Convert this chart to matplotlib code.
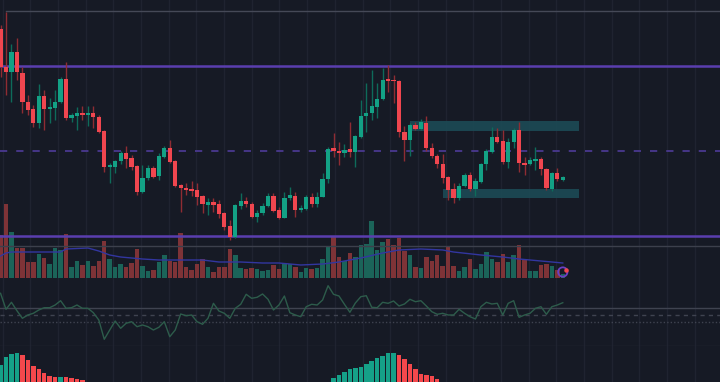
import numpy as np
import matplotlib
matplotlib.use("Agg")
import matplotlib.pyplot as plt

# velas: apertura, maximo, minimo, cierre
opens = [371, 333, 328, 348, 327, 298, 291, 277, 304, 291, 292, 298, 321, 282, 284, 287, 285, 287, 283, 269,
         233, 233, 239, 247, 242, 234, 208, 222, 232, 224, 243, 252, 239, 215, 212, 211, 210, 204, 195, 198,
         196, 187, 174, 163, 194, 199, 196, 183, 187, 194, 204, 190, 182, 202, 204, 190, 191, 203, 196, 203,
         221, 252, 249, 247, 251, 248, 263, 284, 287, 293, 301, 321, 320, 319, 268, 260, 275, 271, 277, 252,
         244, 236, 223, 211, 202, 214, 225, 211, 218, 236, 248, 263, 259, 238, 258, 270, 237, 236, 239, 241,
         231, 211, 227, 220]
highs = [375, 388, 356, 362, 333, 305, 295, 316, 310, 302, 310, 323, 338, 287, 293, 294, 294, 294, 285, 270,
         237, 240, 249, 254, 245, 235, 235, 235, 234, 247, 254, 260, 240, 216, 217, 219, 217, 205, 202, 202,
         200, 188, 180, 196, 207, 203, 198, 190, 197, 207, 207, 193, 208, 213, 208, 195, 205, 207, 208, 227,
         253, 267, 258, 256, 278, 265, 300, 317, 330, 317, 332, 335, 325, 320, 274, 277, 278, 281, 284, 257,
         246, 246, 224, 217, 217, 227, 228, 222, 237, 251, 273, 272, 270, 262, 272, 278, 243, 243, 253, 243,
         232, 228, 232, 224]
lows = [323, 305, 298, 320, 287, 285, 273, 272, 270, 277, 280, 297, 280, 278, 270, 280, 274, 272, 267, 228,
        217, 227, 236, 232, 230, 205, 207, 220, 222, 220, 242, 237, 213, 188, 205, 204, 195, 187, 185, 188,
        182, 170, 160, 162, 191, 193, 182, 178, 185, 193, 188, 181, 182, 200, 183, 188, 190, 193, 193, 203,
        217, 243, 235, 243, 243, 233, 262, 268, 280, 282, 300, 308, 297, 263, 239, 244, 270, 270, 249, 242,
        232, 217, 200, 197, 200, 213, 209, 204, 217, 230, 247, 257, 236, 232, 252, 228, 225, 235, 230, 225,
        210, 209, 219, 219]
closes = [333, 328, 348, 328, 298, 290, 277, 304, 291, 293, 298, 321, 282, 285, 287, 285, 287, 283, 268, 233,
          235, 239, 247, 241, 233, 208, 222, 232, 223, 244, 252, 238, 214, 212, 210, 209, 203, 196, 198, 195,
          186, 173, 163, 195, 199, 196, 183, 187, 194, 204, 189, 182, 202, 205, 190, 192, 203, 196, 203, 221,
          251, 249, 247, 250, 248, 264, 284, 287, 294, 301, 320, 319, 319, 268, 260, 275, 271, 278, 252, 244,
          236, 222, 210, 202, 214, 225, 211, 219, 236, 249, 263, 258, 238, 258, 270, 237, 235, 240, 241, 231,
          212, 227, 221, 223]

volume = [43, 74, 46, 30, 30, 16, 16, 24, 20, 14, 30, 28, 44, 11, 17, 13, 17, 12, 17, 37,
          19, 11, 14, 11, 15, 29, 12, 7, 8, 16, 23, 17, 16, 45, 11, 8, 14, 19, 11, 6,
          11, 11, 29, 23, 10, 9, 10, 9, 7, 8, 13, 9, 14, 14, 11, 6, 10, 9, 10, 19,
          32, 42, 21, 17, 25, 21, 33, 34, 57, 28, 36, 39, 33, 40, 27, 23, 11, 10, 21, 17,
          23, 12, 31, 12, 7, 11, 19, 9, 14, 26, 19, 16, 24, 16, 23, 33, 18, 7, 7, 13,
          14, 12, 8, 4]

vol_ma_idx = [0, 1, 2, 4, 11, 12, 16, 18, 20, 22, 26, 29, 33, 37, 40, 44, 48, 51, 55, 59,
              62, 66, 70, 73, 77, 81, 83, 88, 92, 95, 99, 103]
vol_ma = [22, 25, 26, 26, 26, 29, 30, 27, 23, 21, 19, 18, 18, 18, 16, 16, 15, 15, 13, 14,
          16, 20, 25, 28, 29, 28, 26, 23, 21, 19, 17, 15]

# oscilador (panel del medio)
osc = [21.7, 5.7, 12.7, 4.3, -3.3, 0, 1.7, 5, 7.3, 7.3, 10, 14.3, 6.7, 7.3, 10, 6.7, 6.7, 2.3, -5, -24.3,
       -15, -6, -13.3, -8.3, -6.7, -11.7, -10, -11.7, -15, -12.3, -6.7, -21.7, -15, 1, -0.7, 0, -6.7, -9.3, -3.3, 11.7,
       4, 1.7, -3.3, 6.7, 10.7, 20.7, 16.7, 17.7, 21, 15.7, 5, 10, 19, 2.3, 0, -1.7, 8.3, 10.7, 10, 15,
       29.3, 20.7, 19, 10.7, 2.7, 12, 18.3, 19.3, 7.7, 7.3, 12.7, 11.7, 14, 9, 11, 15.7, 13.3, 14.3, 9, 3.3,
       0.7, 1.7, 0, 0, 5.7, 1.7, -1.7, -4, 8.3, 12.7, 11, 11.7, 0, 11.7, 14.3, -2.3, 0, 1.7, 6.7, 8.3,
       0.7, 8.3, 10, 12.3]
osc_levels = [6.7, 0, -6.7]

# histograma MACD (la base queda por debajo del borde)
macd_hist = [35, 43, 46, 47, 45, 40, 34, 31, 27, 24, 23, 23.5, 23, 22, 21, 20, 17, 15, 12, 8,
             5, 3, 1, -2, -4, -6, -8, -9, -10, -10, -9, -8, -8, -7, -7, -8, -9, -10, -11, -12,
             -13, -14, -15, -14, -12, -10, -8, -6, -5, -4, -3, -2, 0, 2, 4, 6, 8, 10, 13, 15,
             17, 22, 25, 28, 31, 32, 33, 36, 39, 42, 44, 47, 47.5, 45, 41, 36, 31, 26, 25, 24,
             21, 17, 14, 11, 9, 8, 7, 6, 6, 6, 7, 7, 6, 5, 5, 5, 4, 3, 2, 1,
             0, -1, -1, -2]

lines_solid = [334, 164]
line_dashed = 249
line_gray_top = 389
line_gray_low = 154
boxes = [(75.1, 106.0, 269, 279), (81.1, 106.0, 202, 211)]

BG = "#161a25"
GRID = "#1f2330"
UP, DOWN = "#13a185", "#f0464f"
UP_W, DOWN_W = "#0e6b5a", "#8f2c33"
VUP, VDOWN = "#1b6459", "#7e3337"

n = len(opens)
idx = np.arange(n)
up = np.array(closes) >= np.array(opens)
xlim = (-0.1, 131.8)
grid_x = np.arange(0.4, 132, 5.07)

fig = plt.figure(figsize=(7.2, 3.82), dpi=100, facecolor=BG)
axv = fig.add_axes([0, 102 / 382, 1, 280 / 382])
ax = axv.twinx()
ax_osc = fig.add_axes([0, 36 / 382, 1, 66 / 382])
ax_macd = fig.add_axes([0, 0, 1, 36 / 382])

for a in (axv, ax, ax_osc, ax_macd):
    a.set_xlim(*xlim)
    a.set_xticks([])
    a.set_yticks([])
    for s in a.spines.values():
        s.set_visible(False)
for a in (axv, ax_osc, ax_macd):
    a.set_facecolor(BG)
    for gx in grid_x:
        a.axvline(gx, color=GRID, lw=1, zorder=0)
ax.patch.set_visible(False)

# volumen
axv.set_ylim(-2, 278)
axv.bar(idx, volume, width=0.82, color=np.where(up, VUP, VDOWN), zorder=2)
axv.plot(vol_ma_idx, vol_ma, color="#3236a0", lw=1, zorder=3)
axv.scatter([idx[-1]], [volume[-1] + 2], s=45, facecolors="none", edgecolors="#6a3fc4", lw=1.3, zorder=4)
axv.scatter([idx[-1] + 0.5], [volume[-1] + 4], s=5, color="#f0464f", zorder=5)

# velas
ax.set_ylim(120, 400)
for x0, x1, y0, y1 in boxes:
    ax.fill_between([x0, x1], y0, y1, color="#1c4a55", alpha=0.9, lw=0, zorder=1)
for y in lines_solid:
    ax.axhline(y, color="#5a3eaf", lw=1.8, zorder=2)
ax.axhline(line_dashed, color="#4a3990", lw=1.3, ls=(0, (4, 5)), zorder=2)
ax.axhline(line_gray_top, xmin=6 / 720, color="#454957", lw=1, zorder=2)
ax.axhline(line_gray_low, color="#3c404c", lw=1, zorder=2)

ax.vlines(idx, lows, highs, colors=np.where(up, UP_W, DOWN_W), lw=1, zorder=3)
body_lo = np.minimum(opens, closes)
body_h = np.maximum(np.abs(np.array(closes) - np.array(opens)), 1.3)
ax.bar(idx, body_h, bottom=body_lo, width=0.78, color=np.where(up, UP, DOWN), zorder=4)

# oscilador
ax_osc.set_ylim(-31, 35)
ax_osc.axhline(osc_levels[0], color="#3f4350", lw=1)
ax_osc.axhline(osc_levels[1], color="#3f4350", lw=1, ls=(0, (3, 3)))
ax_osc.axhline(osc_levels[2], color="#3f4350", lw=1, ls=(0, (1, 1.5)))
ax_osc.axhline(-31, color="#262a36", lw=1)
ax_osc.plot(idx, osc, color="#2d5c4b", lw=1, zorder=3)

# macd
ax_macd.set_ylim(18, 54)
h = np.array(macd_hist)
rising = np.concatenate([[True], h[1:] >= h[:-1]])
ax_macd.bar(idx, h, width=0.82, color=np.where(rising, "#15a088", "#f4484c"), zorder=2)

fig.savefig("out.png", dpi=100, facecolor=BG)
